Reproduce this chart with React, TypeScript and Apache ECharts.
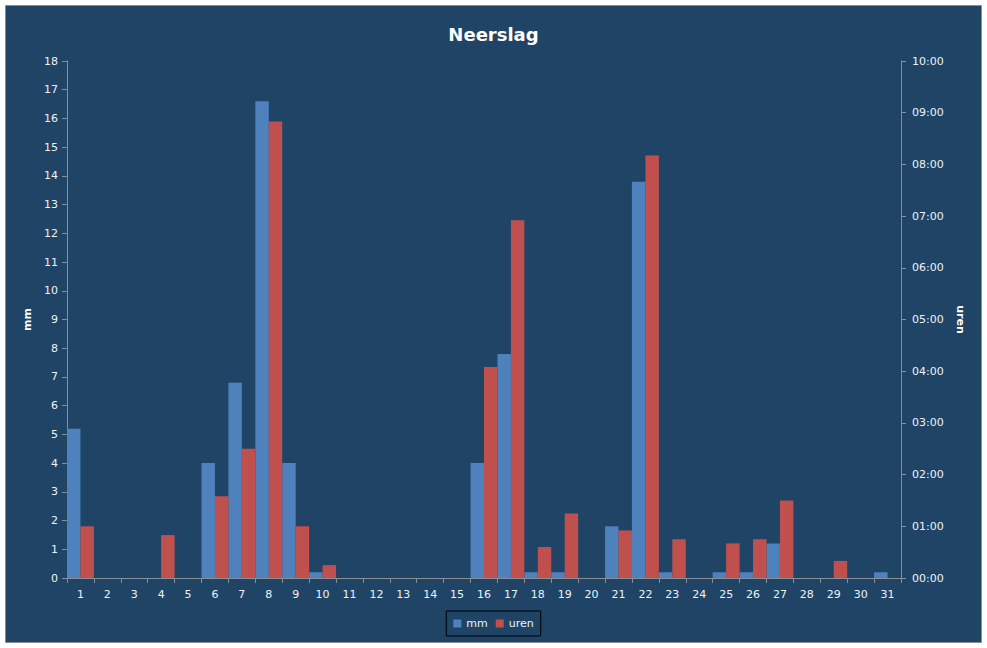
import * as echarts from "echarts";
import React, { useEffect, useRef } from "react";

const days = Array.from({ length: 31 }, (_, i) => String(i + 1));

// neerslag in mm per dag
const mmValues = [
  5.2, 0, 0, 0, 0, 4.0, 6.8, 16.6, 4.0, 0.2, 0, 0, 0, 0, 0, 4.0, 7.8, 0.2, 0.2, 0, 1.8, 13.8, 0.2, 0, 0.2,
  0.2, 1.2, 0, 0, 0, 0.2,
];

// duur van de neerslag in uren
const urenValues = [
  1.0, 0, 0, 0.83, 0, 1.58, 2.5, 8.83, 1.0, 0.25, 0, 0, 0, 0, 0, 4.08, 6.92, 0.6, 1.25, 0, 0.92, 8.17, 0.75,
  0, 0.67, 0.75, 1.5, 0, 0.33, 0, 0,
];

const mmTicks = { min: 0, max: 18, interval: 1 };
const urenTicks = { min: 0, max: 10, interval: 1 };

const FONT = "DejaVu Sans";
const LABEL = "#eef3f8";
const AXIS = "#8a8f96";

const App: React.FC = () => {
  const chartRef = useRef<HTMLDivElement | null>(null);

  useEffect(() => {
    if (!chartRef.current) return;
    const chart = echarts.init(chartRef.current, undefined, { renderer: "svg" });

    const option: echarts.EChartsOption = {
      animation: false,
      backgroundColor: "#ffffff",
      textStyle: { fontFamily: FONT },
      graphic: [
        {
          type: "rect",
          z: 0,
          silent: true,
          shape: { x: 5.5, y: 5.5, width: 976, height: 637 },
          style: { fill: "#1f4466", stroke: "#8c8c8c", lineWidth: 1 },
        },
      ],
      title: {
        text: "Neerslag",
        left: "center",
        top: 20,
        textStyle: { fontFamily: FONT, fontSize: 18, fontWeight: "bold", color: "#ffffff" },
      },
      legend: {
        bottom: 12,
        left: "center",
        data: ["mm", "uren"],
        icon: "rect",
        itemWidth: 8,
        itemHeight: 8,
        itemGap: 8,
        borderColor: "#000000",
        borderWidth: 1,
        padding: [7, 7],
        textStyle: { fontFamily: FONT, fontSize: 11, color: LABEL },
      },
      grid: { left: 67, right: 86, top: 61, bottom: 70 },
      xAxis: {
        type: "category",
        data: days,
        boundaryGap: true,
        axisLine: { lineStyle: { color: AXIS } },
        axisTick: { show: true, length: 5, lineStyle: { color: AXIS } },
        axisLabel: { fontFamily: FONT, fontSize: 11, color: LABEL, margin: 11, interval: 0 },
      },
      yAxis: [
        {
          type: "value",
          ...mmTicks,
          name: "mm",
          nameLocation: "middle",
          nameGap: 32,
          nameRotate: 90,
          nameTextStyle: { fontFamily: FONT, fontSize: 11, fontWeight: "bold", color: "#ffffff" },
          splitLine: { show: false },
          axisLine: { show: true, lineStyle: { color: AXIS } },
          axisTick: { show: true, length: 5, lineStyle: { color: AXIS } },
          axisLabel: { fontFamily: FONT, fontSize: 11, color: LABEL, margin: 9 },
        },
        {
          type: "value",
          position: "right",
          ...urenTicks,
          name: "uren",
          nameLocation: "middle",
          nameGap: 50,
          nameRotate: -90,
          nameTextStyle: { fontFamily: FONT, fontSize: 11, fontWeight: "bold", color: "#ffffff" },
          splitLine: { show: false },
          axisLine: { show: true, lineStyle: { color: AXIS } },
          axisTick: { show: true, length: 5, lineStyle: { color: AXIS } },
          axisLabel: {
            fontFamily: FONT,
            fontSize: 11,
            color: LABEL,
            margin: 11,
            formatter: (v: number) => `${String(v).padStart(2, "0")}:00`,
          },
        },
      ],
      series: [
        {
          name: "mm",
          type: "bar",
          yAxisIndex: 0,
          data: mmValues,
          barGap: "0%",
          barCategoryGap: "0%",
          itemStyle: { color: "#4f81bd" },
        },
        {
          name: "uren",
          type: "bar",
          yAxisIndex: 1,
          data: urenValues,
          barGap: "0%",
          barCategoryGap: "0%",
          itemStyle: { color: "#c0504d" },
        },
      ],
    };

    chart.setOption(option);
    return () => chart.dispose();
  }, []);

  return (
    <div
      ref={chartRef}
      style={{ position: "absolute", left: 0, top: 0, width: 987, height: 648 }}
    />
  );
};

export default App;
